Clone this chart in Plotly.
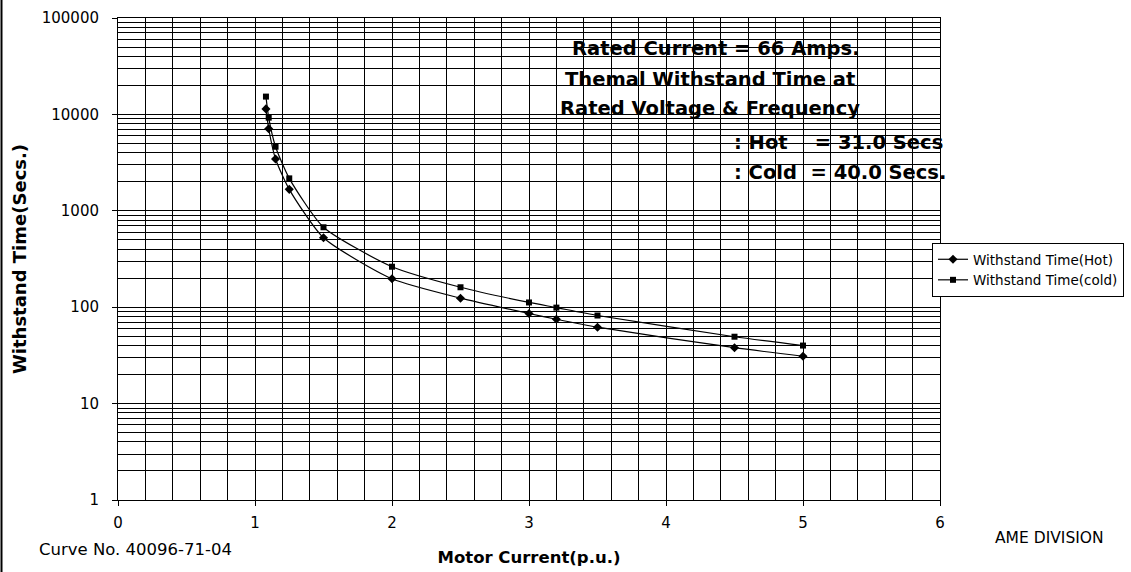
import plotly.graph_objects as go

# ---- data ----
hot_x = [1.08, 1.10, 1.15, 1.25, 1.5, 2.0, 2.5, 3.0, 3.2, 3.5, 4.5, 5.0]
hot_y = [11400, 7100, 3450, 1670, 525, 197, 124, 86, 75, 62, 38, 31]
cold_x = [1.08, 1.10, 1.15, 1.25, 1.5, 2.0, 2.5, 3.0, 3.2, 3.5, 4.5, 5.0]
cold_y = [15300, 9250, 4620, 2170, 675, 263, 161, 112, 99, 82, 49.4, 40]

x_ticks = [0, 1, 2, 3, 4, 5, 6]
y_ticks = [1, 10, 100, 1000, 10000, 100000]
y_tick_labels = ["1", "10", "100", "1000", "10000", "100000"]
y_minor = [d * 10 ** k for k in range(5) for d in range(2, 10)]

note_lines = ["Rated Current = 66 Amps.",
              "Themal Withstand Time at",
              "Rated Voltage & Frequency"]
note_hot = ": Hot\u00a0\u00a0\u00a0\u00a0= 31.0 Secs"
note_cold = ": Cold\u00a0\u00a0= 40.0 Secs."

FONT = "DejaVu Sans"

fig = go.Figure()
fig.add_trace(go.Scatter(
    x=hot_x, y=hot_y, name="Withstand Time(Hot)", mode="lines+markers",
    line=dict(color="black", width=1.2, shape="spline", smoothing=0.6),
    marker=dict(symbol="diamond", size=7, color="black")))
fig.add_trace(go.Scatter(
    x=cold_x, y=cold_y, name="Withstand Time(cold)", mode="lines+markers",
    line=dict(color="black", width=1.2, shape="spline", smoothing=0.6),
    marker=dict(symbol="square", size=6, color="black")))

W, H = 1131, 572
L, R, T, B = 118, 940, 18, 500


def px(xp):
    return (xp - L) / (R - L)


def py(yp):
    return (B - yp) / (B - T)


fig.update_layout(
    width=W, height=H,
    margin=dict(l=L, r=W - R, t=T, b=H - B, autoexpand=False),
    paper_bgcolor="white", plot_bgcolor="white",
    font=dict(family=FONT, color="black", size=15),
    showlegend=True,
    legend=dict(x=px(932), y=py(243), xanchor="left", yanchor="top",
                bordercolor="black", borderwidth=1, bgcolor="white",
                font=dict(family=FONT, size=13.5), tracegroupgap=0,
                itemwidth=30),
    xaxis=dict(range=[0, 6], tickvals=x_ticks, ticks="outside", ticklen=5,
               tickcolor="black", showline=True, linecolor="black", linewidth=1,
               mirror=True, showgrid=False, zeroline=False, automargin=False,
               minor=dict(dtick=0.2, showgrid=True, gridcolor="black", gridwidth=1),
               tickfont=dict(family=FONT, size=15), ticklabelstandoff=4,
               title=dict(text="<b>Motor Current(p.u.)</b>", standoff=20,
                          font=dict(family=FONT, size=16.5))),
    yaxis=dict(type="log", range=[0, 5], tickvals=y_ticks, ticktext=y_tick_labels,
               ticks="outside", ticklen=5, tickcolor="black", automargin=False,
               showline=True, linecolor="black", linewidth=1, mirror=True,
               showgrid=True, gridcolor="black", gridwidth=1,
               minor=dict(tickmode="array", tickvals=y_minor, showgrid=True,
                          gridcolor="black", gridwidth=1, ticks=""),
               tickfont=dict(family=FONT, size=15), ticklabelstandoff=10,
               title=dict(text="<b>Withstand Time(Secs.)</b>", standoff=10,
                          font=dict(family=FONT, size=18))),
)

anns = []
centers = [(716, 48), (710, 79), (710, 108)]
for txt, (cx, cy) in zip(note_lines, centers):
    anns.append(dict(text=f"<b>{txt}</b>", x=px(cx), y=py(cy), xref="paper",
                     yref="paper", xanchor="center", yanchor="middle",
                     showarrow=False, font=dict(family=FONT, size=19.5)))
for txt, cy in [(note_hot, 142), (note_cold, 172)]:
    anns.append(dict(text=f"<b>{txt}</b>", x=px(732), y=py(cy), xref="paper",
                     yref="paper", xanchor="left", yanchor="middle",
                     showarrow=False, font=dict(family=FONT, size=19.5)))
anns.append(dict(text="Curve No. 40096-71-04", x=px(37), y=py(549), xref="paper",
                 yref="paper", xanchor="left", yanchor="middle", showarrow=False,
                 font=dict(family=FONT, size=16.5)))
anns.append(dict(text="AME DIVISION", x=px(993), y=py(538), xref="paper",
                 yref="paper", xanchor="left", yanchor="middle", showarrow=False,
                 font=dict(family=FONT, size=15.5)))
fig.update_layout(annotations=anns)

# page border line at the left edge of the scan
fig.add_shape(type="line", xref="paper", yref="paper",
              x0=px(1.5), x1=px(1.5), y0=py(0), y1=py(H),
              line=dict(color="black", width=2))

fig.write_html(
    "out.html",
    config={"displayModeBar": False},
    post_script="document.body.style.margin='0';document.body.style.overflow='hidden';",
)
